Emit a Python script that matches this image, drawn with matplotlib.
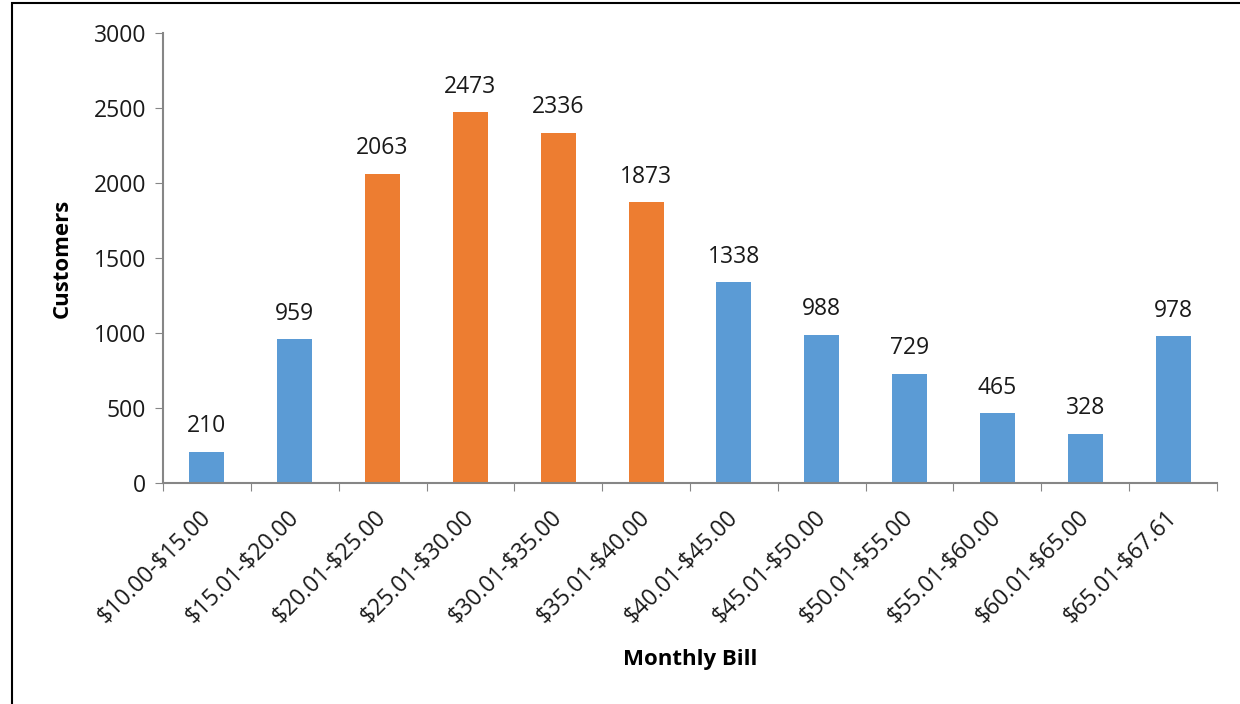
import matplotlib
matplotlib.use("Agg")
from matplotlib import pyplot as plt
from matplotlib.patches import Rectangle
import numpy as np

categories = ["$10.00-$15.00", "$15.01-$20.00", "$20.01-$25.00", "$25.01-$30.00",
              "$30.01-$35.00", "$35.01-$40.00", "$40.01-$45.00", "$45.01-$50.00",
              "$50.01-$55.00", "$55.01-$60.00", "$60.01-$65.00", "$65.01-$67.61"]
customers = [210, 959, 2063, 2473, 2336, 1873, 1338, 988, 729, 465, 328, 978]
highlight = [False, False, True, True, True, True, False, False, False, False, False, False]

blue = "#5B9BD5"
orange = "#ED7D31"
axis_gray = "#868686"
text_col = "#1a1a1a"

plt.rcParams["font.family"] = ["Open Sans", "DejaVu Sans"]
plt.rcParams["text.color"] = text_col
plt.rcParams["xtick.labelcolor"] = text_col
plt.rcParams["ytick.labelcolor"] = text_col
plt.rcParams["text.parse_math"] = False

fig = plt.figure(figsize=(12.4, 7.04), dpi=100)
# outer frame (chart border, cut off on right/bottom)
fig.patches.append(Rectangle((12 / 1240, -0.1), 1.2, 1 - 3 / 704 + 0.1,
                             transform=fig.transFigure, fill=False,
                             edgecolor="black", linewidth=1.5))

ax = fig.add_axes([163 / 1240, 1 - 483 / 704, (1217 - 163) / 1240, (483 - 33) / 704])

x = np.arange(len(categories))
colors = [orange if h else blue for h in highlight]
ax.bar(x, customers, width=0.4, color=colors)

for xi, v in zip(x, customers):
    ax.text(xi, v + 90, str(v), ha="center", va="bottom", fontsize=16.5)

ax.set_xlim(-0.5, len(categories) - 0.5)
ax.set_ylim(0, 3000)
ax.set_yticks(range(0, 3001, 500))
ax.tick_params(axis="y", labelsize=16.5, length=6, color=axis_gray, pad=6)

# ticks at category boundaries, labels at centres
ax.set_xticks(np.arange(-0.5, len(categories), 1.0))
ax.set_xticklabels([])
ax.tick_params(axis="x", which="major", length=6, color=axis_gray)
ax.set_xticks(x, minor=True)
ax.set_xticklabels(categories, minor=True, rotation=45, ha="right", va="center",
                   rotation_mode="anchor", fontsize=16.5)
ax.tick_params(axis="x", which="minor", length=0, pad=22)

for s in ["top", "right"]:
    ax.spines[s].set_visible(False)
for s in ["left", "bottom"]:
    ax.spines[s].set_color(axis_gray)
    ax.spines[s].set_linewidth(1.5)

fig.text(62 / 1240, 1 - 258 / 704, "Customers", rotation=90, ha="center", va="center",
         fontsize=16, fontweight="bold", color="black")
fig.text(690 / 1240, 1 - 660 / 704, "Monthly Bill", ha="center", va="center",
         fontsize=16, fontweight="bold", color="black")

fig.savefig("out.png", dpi=100)
